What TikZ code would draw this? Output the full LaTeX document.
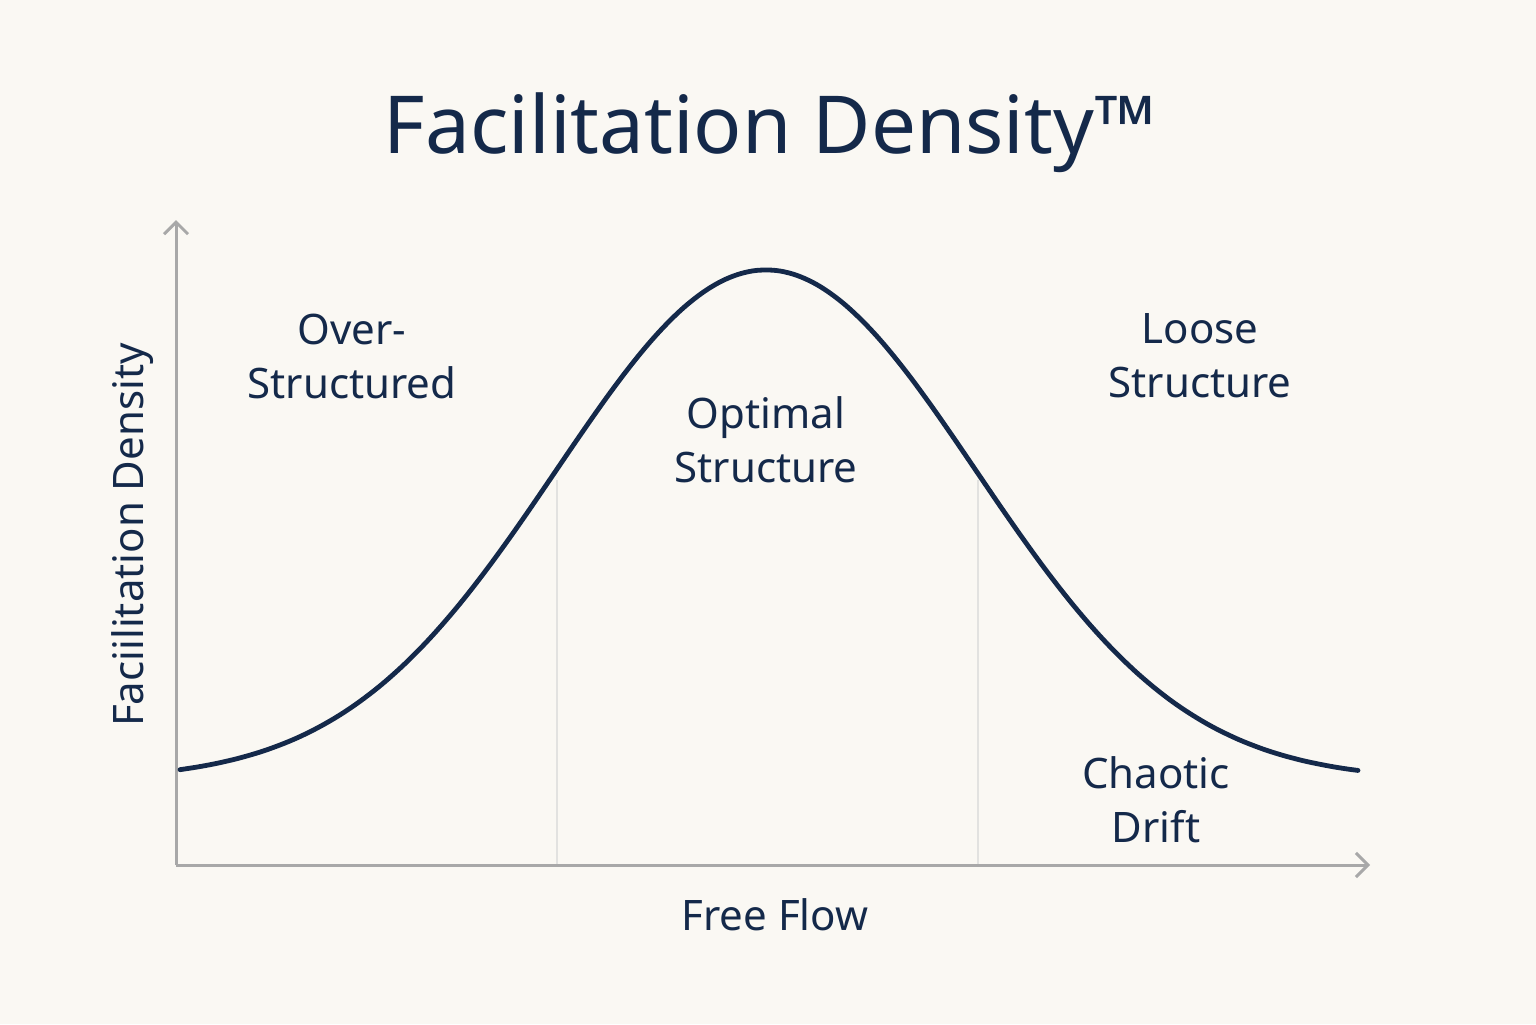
\documentclass[tikz,border=0pt]{standalone}
\usepackage{fontspec}
\setmainfont{Noto Sans}
\usetikzlibrary{arrows.meta}
\definecolor{navy}{HTML}{14294A}
\definecolor{bg}{HTML}{FAF8F3}
\definecolor{axisgray}{HTML}{A8A8A8}
\definecolor{divgray}{HTML}{E2E2E0}
\begin{document}
\begin{tikzpicture}[x=0.5pt,y=-0.5pt,
  lbl/.style={font=\fontsize{21}{27}\selectfont, text=navy, align=center, inner sep=0pt},
  axis/.style={draw=axisgray, line width=1.5pt, -{Straight Barb[length=6pt,width=12pt,line width=1.5pt]}}]
\fill[bg] (0,0) rectangle (1536,1024);
\useasboundingbox (0,0) rectangle (1536,1024);
\node[font=\fontsize{40}{48}\selectfont, text=navy, inner sep=0pt] (title) at (770,133) {Facilitation Density™};
\coordinate (o) at (176,865);
\coordinate (ytop) at (176,220);
\coordinate (xend) at (1370,865);
\draw[divgray, line width=0.8pt] (557,480) -- (557,865);
\draw[divgray, line width=0.8pt] (978,480) -- (978,865);
\draw[axis] (o) -- (ytop);
\draw[axis] (o) -- (xend);
\draw[navy, line width=2.4pt, line cap=round, domain=180:1358, samples=150, smooth]
  plot (\x, {780 - 510*exp(-((\x-766)/210)^2/2)});
\node[lbl] (over) at (352,356) {Over-\\Structured};
\node[lbl] (opt) at (766,440) {Optimal\\Structure};
\node[lbl] (loose) at (1200,356) {Loose\\Structure};
\node[lbl] (chaos) at (1156,800) {Chaotic\\Drift};
\node[lbl] (xl) at (775,915) {Free Flow};
\node[lbl, rotate=90] (yl) at (133,535) {Faciilitation Density};
\end{tikzpicture}
\end{document}
